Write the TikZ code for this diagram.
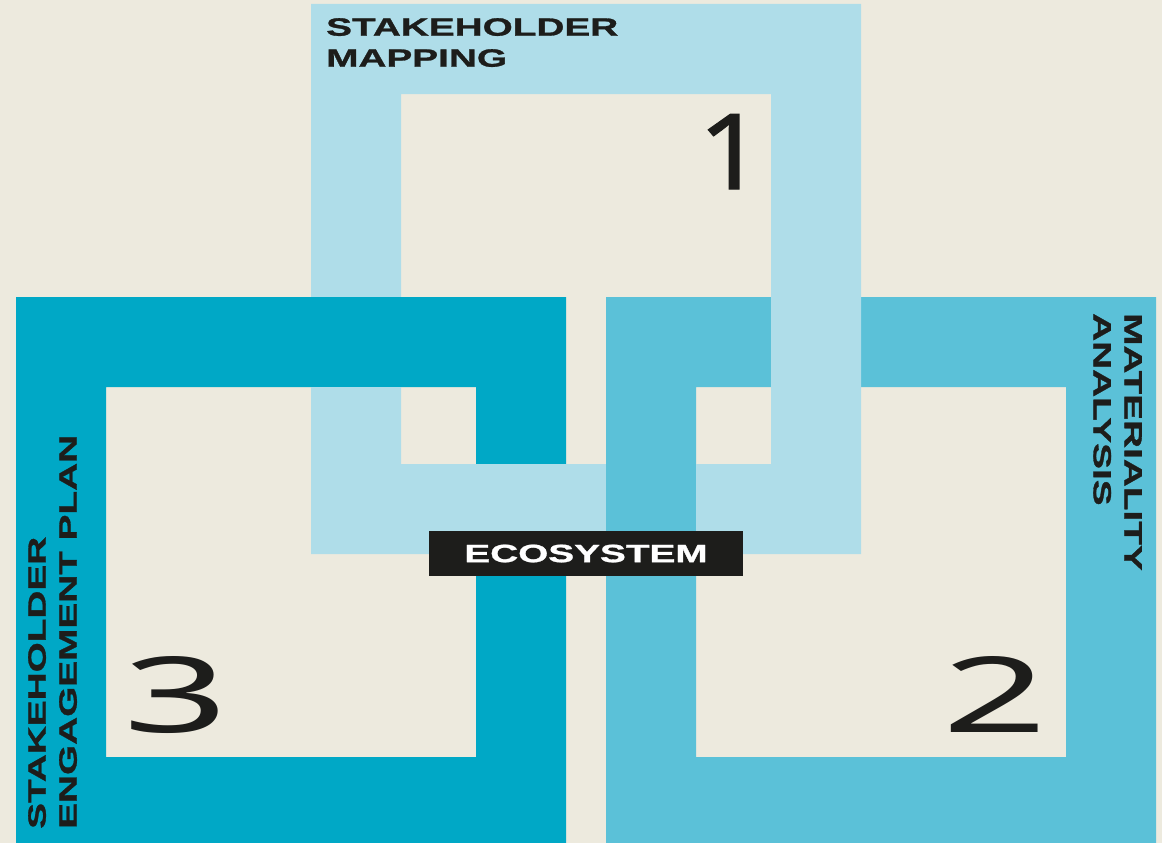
\documentclass[tikz,border=0pt]{standalone}
\usepackage{fontspec}
\setmainfont{Liberation Sans}
\newfontfamily\widefont{Liberation Sans}[FakeStretch=1.55,FakeBold=1.2]
\newfontfamily\numfont{Noto Sans}[FakeStretch=1.75]
\newfontfamily\onefont{Noto Sans}[FakeStretch=1.1,FakeBold=1]
\usetikzlibrary{positioning}
\definecolor{paper}{RGB}{237,234,222}
\definecolor{lite}{RGB}{175,221,233}
\definecolor{midblue}{RGB}{91,193,216}
\definecolor{deep}{RGB}{0,168,198}
\definecolor{ink}{RGB}{29,29,27}

\begin{document}
\begin{tikzpicture}[x=1pt,y=-1pt,
 ring/.style={even odd rule},
 lbl/.style={inner sep=0,align=left,text=ink,font=\widefont\bfseries\fontsize{25}{31}\selectfont},
 num/.style={inner sep=0,text=ink,anchor=base,font=\numfont\fontsize{105}{105}\selectfont}]
\useasboundingbox (0,0) rectangle (1162,843);
\fill[paper] (0,0) rectangle (1162,843);
% the three frames, 1 drawn last and then crossed back over
\fill[deep,ring] (16,297) rectangle (566,847) (106,387) rectangle (476,757);
\fill[midblue,ring] (606,297) rectangle (1156,847) (696,387) rectangle (1066,757);
\fill[lite,ring] (311,4) rectangle (861,554) (401,94) rectangle (771,464);
\fill[deep] (300,297) rectangle (412,387);
\fill[midblue] (606,455) rectangle (696,563);
% labels
\node[lbl,anchor=north west] (mapping) at (326,18) {STAKEHOLDER\\MAPPING};
\node[lbl,anchor=north west,rotate=-90] (analysis) at (1142,313) {MATERIALITY\\ANALYSIS};
\node[lbl,anchor=north west,rotate=90] (plan) at (28,829) {STAKEHOLDER\\ENGAGEMENT PLAN};
\node[num,font=\onefont\fontsize{105}{105}\selectfont] (one) at (731,189) {1};
\node[num] (two) at (995,732) {2};
\node[num] (three) at (176,732) {3};
\node[fill=ink,text=white,minimum width=314pt,minimum height=45pt,inner sep=0,
 font=\widefont\bfseries\fontsize{25}{31}\selectfont] (eco) at (586,553.5) {ECOSYSTEM};
\end{tikzpicture}
\end{document}
